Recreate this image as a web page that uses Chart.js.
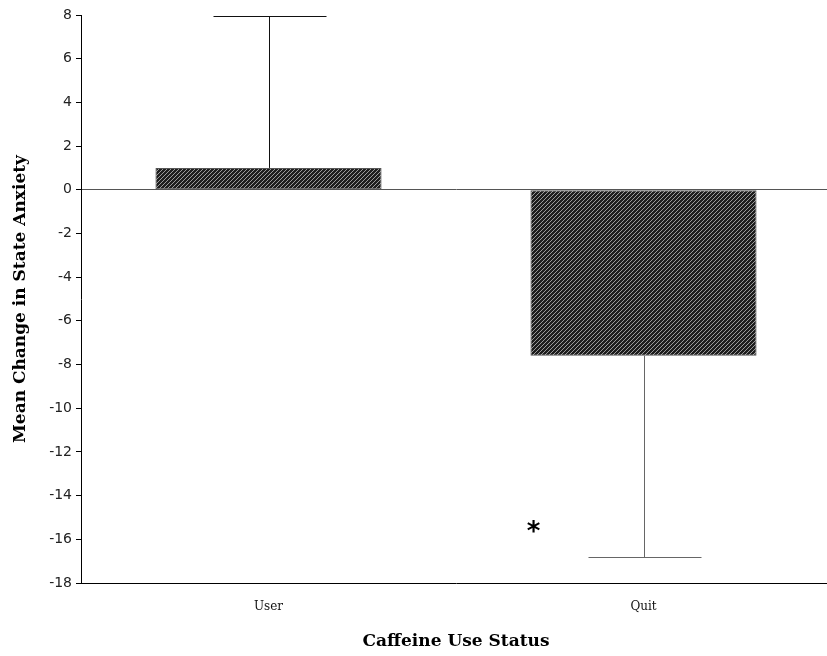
<!DOCTYPE html>
<html>
<head>
<meta charset="utf-8">
<script src="https://cdn.jsdelivr.net/npm/chart.js@4"></script>
<style>
  body { margin: 0; background: #fff; }
  #wrap { width: 827px; height: 656px; overflow: hidden; }
</style>
</head>
<body>
<div id="wrap"><canvas id="anxiety" width="831" height="656"></canvas></div>
<script>
const categories = ['User', 'Quit'];
const meanChange = [1.0, -7.6];
const errorEnds = [7.95, -16.8];
const yMin = -18;
const yMax = 8;
const yStep = 2;
const markCategory = 'Quit';
const markValue = -15.5;

const serif = "'DejaVu Serif', serif";
const sans = "'DejaVu Sans', sans-serif";

function hatch() {
    const c = document.createElement('canvas');
    c.width = 4;
    c.height = 4;
    const g = c.getContext('2d');
    g.fillStyle = '#1e1e1e';
    g.fillRect(0, 0, 4, 4);
    g.strokeStyle = '#9a9a9a';
    g.lineWidth = 1;
    g.beginPath();
    g.moveTo(-1, 5); g.lineTo(5, -1);
    g.stroke();
    return g.createPattern(c, 'repeat');
}

// whiskers with a cap, plus the significance star
const errorBars = {
    id: 'errorBars',
    afterDatasetsDraw(chart) {
        const ctx = chart.ctx;
        const y = chart.scales.y;
        const bars = chart.getDatasetMeta(0).data;
        const colors = ['#111', '#666'];
        ctx.save();
        bars.forEach((bar, i) => {
            const x = Math.round(bar.x) + 0.5;
            const y0 = y.getPixelForValue(meanChange[i]);
            const y1 = Math.round(y.getPixelForValue(errorEnds[i])) + 0.5;
            ctx.strokeStyle = colors[i];
            ctx.lineWidth = 1;
            ctx.beginPath();
            ctx.moveTo(x, y0);
            ctx.lineTo(x, y1);
            ctx.moveTo(x - 56, y1);
            ctx.lineTo(x + 57, y1);
            ctx.stroke();
        });
        const k = categories.indexOf(markCategory);
        const b = bars[k];
        ctx.fillStyle = '#000';
        ctx.font = "bold 26px " + sans;
        ctx.textAlign = 'center';
        ctx.textBaseline = 'middle';
        ctx.fillText('*', b.x - b.width / 2 + 3, y.getPixelForValue(markValue) + 5);
        ctx.restore();
    }
};

new Chart(document.getElementById('anxiety'), {
    type: 'bar',
    data: {
        labels: categories,
        datasets: [{
            data: meanChange,
            backgroundColor: hatch(),
            borderColor: '#555',
            borderWidth: 1,
            borderSkipped: false,
            categoryPercentage: 1,
            barPercentage: 0.603
        }]
    },
    options: {
        responsive: false,
        animation: false,
        layout: { padding: { top: 15, right: 0, left: 0, bottom: 0 } },
        plugins: {
            legend: { display: false },
            tooltip: { enabled: false }
        },
        scales: {
            x: {
                grid: { display: false },
                border: { color: '#000', width: 1 },
                ticks: { color: '#111', padding: 9, font: { family: serif, size: 12 } },
                title: {
                    display: true,
                    text: 'Caffeine Use Status',
                    color: '#000',
                    font: { family: serif, size: 17, weight: 'bold' },
                    padding: { top: 12, bottom: 4 }
                },
                afterFit(scale) { scale.height = 73; }
            },
            y: {
                min: yMin,
                max: yMax,
                border: { color: '#000', width: 1 },
                grid: {
                    color: ctx => ctx.tick && ctx.tick.value === 0 ? '#555' : 'transparent',
                    tickColor: '#000',
                    tickLength: 5,
                    lineWidth: 1
                },
                ticks: {
                    stepSize: yStep,
                    color: '#222',
                    padding: 4,
                    font: { family: sans, size: 14 }
                },
                title: {
                    display: true,
                    text: 'Mean Change in State Anxiety',
                    color: '#000',
                    font: { family: serif, size: 17, weight: 'bold' },
                    padding: { top: 10, bottom: 0 }
                },
                afterFit(scale) { scale.width = 81; }
            }
        }
    },
    plugins: [errorBars]
});
</script>
</body>
</html>
